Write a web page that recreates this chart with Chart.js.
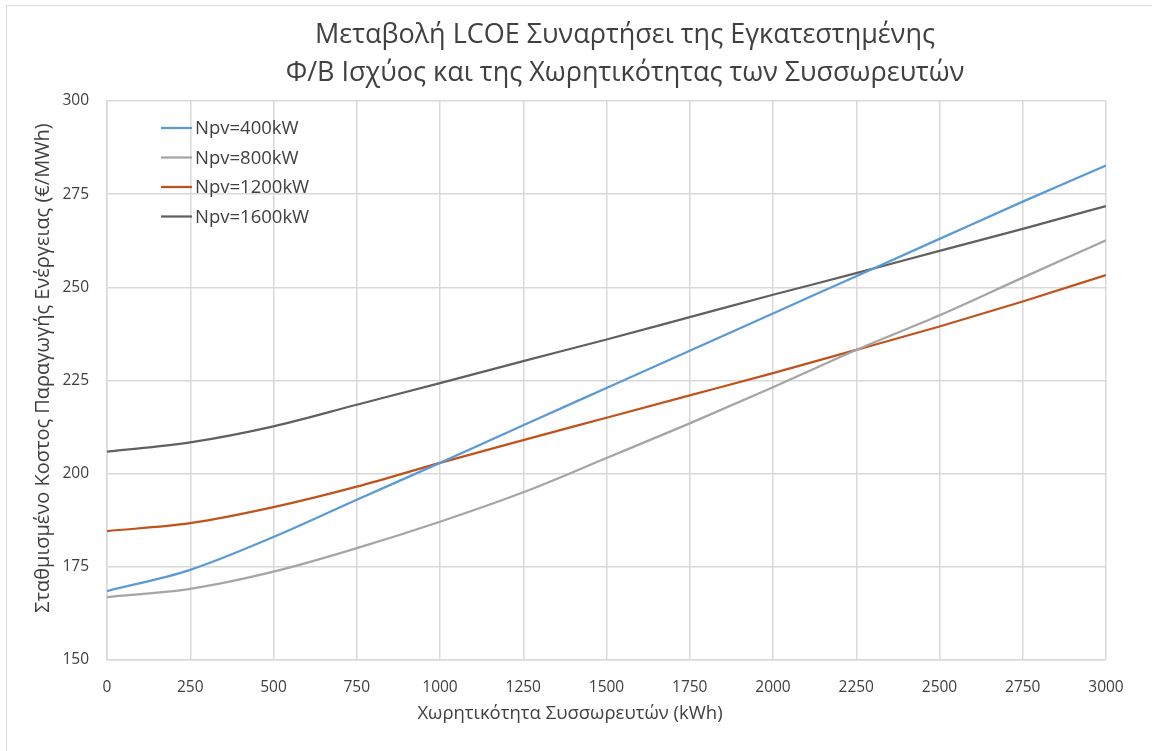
<!DOCTYPE html>
<html>
<head>
<meta charset="utf-8">
<script src="https://cdn.jsdelivr.net/npm/chart.js@4.4.1/dist/chart.umd.min.js"></script>
<style>
  html, body { margin: 0; padding: 0; background: #ffffff; }
  #frame { position: absolute; left: 0; top: 0; width: 1152px; height: 751px; }
  #edge { position: absolute; left: 6px; top: 5px; right: -2px; bottom: -2px; border-top: 1px solid #d9d9d9; border-left: 1px solid #d9d9d9; pointer-events: none; }
  canvas { position: absolute; left: 0; top: 0; }
</style>
</head>
<body>
<div id="frame">
  <canvas id="c" width="1152" height="751"></canvas>
  <div id="edge"></div>
</div>
<script>
// Battery capacity (kWh)
const capacity = [0, 250, 500, 750, 1000, 1250, 1500, 1750, 2000, 2250, 2500, 2750, 3000];

// LCOE (€/MWh) for each installed PV power
const npv400  = [168.5, 174.2, 183.0, 193.0, 202.9, 213.0, 223.0, 233.0, 243.0, 253.0, 263.0, 273.0, 282.7];
const npv800  = [166.9, 169.1, 173.7, 180.0, 187.1, 195.0, 204.2, 213.5, 223.2, 233.2, 242.5, 252.6, 262.6];
const npv1200 = [184.6, 186.7, 191.0, 196.5, 202.9, 209.0, 215.0, 221.0, 227.0, 233.2, 239.5, 246.2, 253.3];
const npv1600 = [205.9, 208.4, 212.7, 218.5, 224.3, 230.2, 236.0, 242.0, 248.0, 253.8, 259.8, 265.7, 271.8];

const seriesNames = ['Npv=400kW', 'Npv=800kW', 'Npv=1200kW', 'Npv=1600kW'];
const seriesColors = ['#5b9bd5', '#a5a5a5', '#c0531a', '#606060'];
const seriesValues = [npv400, npv800, npv1200, npv1600];

const titleLines = ['Μεταβολή LCOE Συναρτήσει της Εγκατεστημένης', 'Φ/Β Ισχύος και της Χωρητικότητας των Συσσωρευτών'];
const xTitle = 'Χωρητικότητα Συσσωρευτών (kWh)';
const yTitle = 'Σταθμισμένο Κοστος Παραγωγής Ενέργειας (€/MWh)';

const FONT = "'Open Sans', 'Noto Sans', sans-serif";
const TEXT = '#404040';

const datasets = seriesValues.map((vals, i) => ({
  label: seriesNames[i],
  data: capacity.map((x, k) => ({ x: x, y: vals[k] })),
  borderColor: seriesColors[i],
  backgroundColor: seriesColors[i],
  borderWidth: 2.25,
  pointRadius: 0,
  cubicInterpolationMode: 'monotone',
  fill: false
}));

// Chart title and axis titles
const captions = {
  id: 'captions',
  afterDraw(chart) {
    const ctx = chart.ctx;
    ctx.save();
    ctx.fillStyle = TEXT;
    ctx.textAlign = 'center';
    ctx.textBaseline = 'alphabetic';
    ctx.font = '27px ' + FONT;
    ctx.fillText(titleLines[0], 625, 43);
    ctx.fillText(titleLines[1], 625, 81);

    ctx.font = '18.5px ' + FONT;
    ctx.fillText(xTitle, 570, 719);

    ctx.font = '20px ' + FONT;
    ctx.translate(43, 368);
    ctx.rotate(-Math.PI / 2);
    ctx.textBaseline = 'middle';
    ctx.fillText(yTitle, 0, 0);
    ctx.restore();
  }
};

// Legend drawn inside the plot area, top-left
const insideLegend = {
  id: 'insideLegend',
  afterDatasetsDraw(chart) {
    const ctx = chart.ctx;
    const a = chart.chartArea;
    const x0 = a.left + 54, lineLen = 31, y0 = a.top + 27, step = 29.5;
    ctx.save();
    ctx.font = '18.5px ' + FONT;
    ctx.textBaseline = 'middle';
    ctx.textAlign = 'left';
    chart.data.datasets.forEach((ds, i) => {
      const y = y0 + i * step;
      ctx.strokeStyle = ds.borderColor;
      ctx.lineWidth = 2.25;
      ctx.beginPath();
      ctx.moveTo(x0, y);
      ctx.lineTo(x0 + lineLen, y);
      ctx.stroke();
      ctx.fillStyle = TEXT;
      ctx.fillText(ds.label, x0 + lineLen + 3, y + 1);
    });
    ctx.restore();
  }
};

new Chart(document.getElementById('c'), {
  type: 'line',
  data: { datasets: datasets },
  plugins: [insideLegend, captions],
  options: {
    responsive: false,
    animation: false,
    layout: { padding: { top: 101, right: 46, bottom: 0, left: 0 } },
    plugins: {
      legend: { display: false },
      tooltip: { enabled: false },
      title: { display: false }
    },
    scales: {
      x: {
        type: 'linear',
        min: 0, max: 3000,
        ticks: { stepSize: 250, color: TEXT, font: { family: FONT, size: 15.5 }, padding: 18, maxRotation: 0,
                 callback: v => String(v) },
        grid: { color: '#d9d9d9', lineWidth: 1.5, drawTicks: false },
        border: { color: '#d9d9d9', width: 1.5 },
        afterFit(s) { s.height = 91; }
      },
      y: {
        min: 150, max: 300,
        ticks: { stepSize: 25, color: TEXT, font: { family: FONT, size: 15.5 }, padding: 18,
                 callback: v => String(v) },
        grid: { color: '#d9d9d9', lineWidth: 1.5, drawTicks: false },
        border: { color: '#d9d9d9', width: 1.5 },
        afterFit(s) { s.width = 107; }
      }
    }
  },
});
</script>
</body>
</html>
